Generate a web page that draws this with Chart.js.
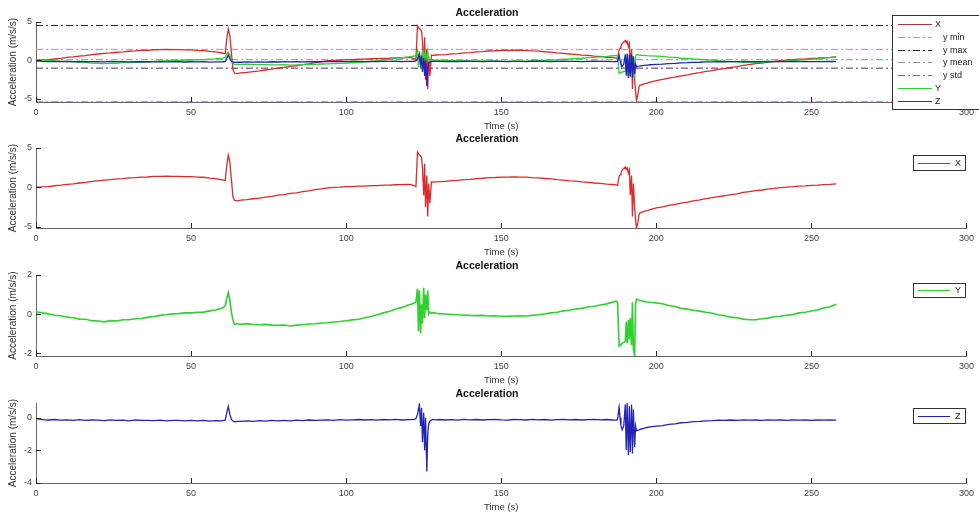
<!DOCTYPE html>
<html>
<head>
<meta charset="utf-8">
<script src="https://cdn.jsdelivr.net/npm/chart.js@4/dist/chart.umd.min.js"></script>
<style>
  html, body { margin: 0; padding: 0; background: #fff; width: 979px; height: 516px; overflow: hidden; }
  canvas { position: absolute; left: 0; }
</style>
</head>
<body>
<canvas id="pAll" width="979" height="124" style="top:8px"></canvas>
<canvas id="pX" width="979" height="124" style="top:134px"></canvas>
<canvas id="pY" width="979" height="125" style="top:261px"></canvas>
<canvas id="pZ" width="979" height="124" style="top:389px"></canvas>
<script>
// Sample times (s): coarse on the smooth stretches, finer around the three shocks
const time = [
  0, 2, 4, 6, 8, 10, 12, 14, 16, 18, 20, 22, 24, 26, 28, 30, 32, 34, 36, 38, 40, 42, 44, 46, 48, 50, 52, 54, 56, 58, 60,
  60.5, 61, 61.5, 62, 62.5, 63, 63.5, 64, 65,
  66, 68, 70, 72, 74, 76, 78, 80, 82, 84, 86, 88, 90, 92, 94, 96, 98, 100, 102, 104, 106, 108, 110, 112, 114, 116, 118, 120,
  121, 122, 122.5, 123, 123.3, 123.6, 124, 124.3, 124.6, 125, 125.3, 125.6, 126, 126.3, 126.6, 127, 127.5, 128, 129,
  130, 132, 134, 136, 138, 140, 142, 144, 146, 148, 150, 152, 154, 156, 158, 160, 162, 164, 166, 168, 170, 172, 174, 176, 178, 180, 182, 184, 186,
  187, 187.5, 188, 188.3, 188.6, 189, 189.5, 190, 190.3, 190.6, 191, 191.3, 191.6, 192, 192.3, 192.6, 193, 193.3, 193.6, 194, 194.5, 195, 196, 197,
  198, 200, 202, 204, 206, 208, 210, 212, 214, 216, 218, 220, 222, 224, 226, 228, 230, 232, 234, 236, 238, 240, 242, 244, 246, 248, 250, 252, 254, 256, 258
];

// Acceleration along X (m/s/s)
const accX = [
  0.00, 0.06, 0.11, 0.21, 0.28, 0.39, 0.46, 0.56, 0.64, 0.76, 0.84, 0.93, 0.99, 1.07, 1.11, 1.20, 1.24, 1.31, 1.32, 1.39, 1.40, 1.44, 1.41, 1.41, 1.37, 1.38, 1.31, 1.29, 1.19, 1.11, 0.97,
  0.92, 0.88, 2.80, 4.10, 3.20, 1.00, -1.20, -1.65, -1.70,
  -1.62, -1.56, -1.44, -1.36, -1.24, -1.13, -0.99, -0.91, -0.77, -0.69, -0.54, -0.43, -0.29, -0.19, -0.07, 0.01, 0.04, 0.11, 0.11, 0.16, 0.17, 0.22, 0.23, 0.28, 0.29, 0.34, 0.35, 0.39,
  0.36, 0.20, 0.12, 4.50, 4.30, 4.15, 4.00, 3.80, 2.50, -1.00, 3.00, -2.50, 1.50, -3.70, 0.50, -2.00, 0.70, 0.66, 0.71,
  0.73, 0.77, 0.85, 0.89, 0.98, 1.03, 1.11, 1.16, 1.23, 1.26, 1.31, 1.30, 1.33, 1.30, 1.30, 1.24, 1.21, 1.13, 1.08, 0.98, 0.93, 0.84, 0.79, 0.70, 0.65, 0.56, 0.51, 0.42, 0.37,
  0.33, 0.28, 1.40, 1.60, 1.85, 2.20, 2.40, 2.60, 2.30, 2.50, 1.80, 2.20, -1.00, 1.50, -3.70, 0.50, -2.50, -4.00, -5.20, -4.50, -3.30, -3.20, -3.05, -2.95,
  -2.82, -2.61, -2.46, -2.29, -2.16, -1.99, -1.87, -1.71, -1.59, -1.43, -1.31, -1.16, -1.06, -0.91, -0.81, -0.64, -0.53, -0.41, -0.33, -0.21, -0.13, -0.03, 0.04, 0.09, 0.16, 0.19, 0.26, 0.29, 0.36, 0.39, 0.45
];

// Acceleration along Y (m/s/s)
const accY = [
  0.12, 0.06, 0.01, -0.06, -0.09, -0.16, -0.19, -0.26, -0.27, -0.34, -0.36, -0.40, -0.34, -0.36, -0.29, -0.29, -0.24, -0.23, -0.17, -0.13, -0.07, -0.04, 0.01, 0.02, 0.06, 0.06, 0.09, 0.10, 0.16, 0.21, 0.31,
  0.35, 0.42, 0.80, 1.10, 0.70, 0.10, -0.30, -0.53, -0.50,
  -0.52, -0.49, -0.54, -0.55, -0.53, -0.57, -0.58, -0.56, -0.61, -0.57, -0.55, -0.51, -0.50, -0.46, -0.45, -0.41, -0.38, -0.34, -0.30, -0.27, -0.19, -0.13, -0.04, 0.06, 0.14, 0.26, 0.34, 0.46,
  0.50, 0.58, 0.62, 1.30, -0.90, 1.20, -1.00, 0.50, -0.50, 1.35, -0.20, 1.00, 0.20, 1.20, 0.00, 0.10, 0.05, 0.07, 0.04,
  0.02, 0.00, -0.02, -0.04, -0.05, -0.07, -0.08, -0.07, -0.10, -0.09, -0.11, -0.12, -0.10, -0.09, -0.10, -0.07, -0.04, 0.00, 0.06, 0.09, 0.16, 0.19, 0.26, 0.29, 0.36, 0.40, 0.46, 0.52, 0.61,
  0.67, 0.60, -1.64, -1.60, -1.55, -1.50, -1.45, -1.40, -0.40, -1.50, -0.30, -1.30, -0.20, -1.60, 0.60, -1.80, -2.15, 0.50, 0.75, 0.75, 0.70, 0.68, 0.65, 0.62,
  0.60, 0.57, 0.53, 0.44, 0.39, 0.29, 0.25, 0.19, 0.15, 0.09, 0.04, -0.04, -0.09, -0.16, -0.19, -0.26, -0.29, -0.29, -0.24, -0.21, -0.14, -0.11, -0.06, -0.03, 0.06, 0.09, 0.16, 0.21, 0.31, 0.37, 0.50
];

// Acceleration along Z (m/s/s)
const accZ = [
  -0.05, -0.12, -0.14, -0.11, -0.15, -0.13, -0.16, -0.12, -0.17, -0.14, -0.15, -0.18, -0.13, -0.16, -0.15, -0.19, -0.14, -0.17, -0.16, -0.18, -0.15, -0.19, -0.17, -0.16, -0.20, -0.17, -0.19, -0.16, -0.21, -0.18, -0.19,
  -0.17, -0.15, 0.30, 0.70, 0.20, -0.10, -0.20, -0.25, -0.22,
  -0.23, -0.19, -0.22, -0.18, -0.21, -0.17, -0.20, -0.16, -0.19, -0.15, -0.18, -0.14, -0.17, -0.15, -0.13, -0.16, -0.12, -0.15, -0.13, -0.11, -0.14, -0.12, -0.15, -0.11, -0.13, -0.10, -0.14, -0.12,
  -0.12, -0.10, -0.05, 0.20, 0.50, 0.80, -0.50, 0.60, -1.50, 0.30, -2.00, 0.00, -3.30, -1.00, -0.40, -0.20, -0.15, -0.10, -0.13,
  -0.11, -0.14, -0.12, -0.15, -0.10, -0.13, -0.11, -0.14, -0.12, -0.10, -0.13, -0.15, -0.11, -0.12, -0.14, -0.10, -0.13, -0.11, -0.15, -0.12, -0.10, -0.13, -0.11, -0.14, -0.12, -0.10, -0.13, -0.11, -0.14,
  -0.15, -0.12, 0.65, 0.00, -0.50, -0.74, -0.50, 0.80, -2.00, 0.90, -2.28, 0.70, -2.10, 0.80, -2.20, 0.50, -1.80, -0.50, -0.80, -0.76, -0.74, -0.70, -0.65, -0.60,
  -0.56, -0.52, -0.48, -0.41, -0.38, -0.31, -0.29, -0.24, -0.23, -0.19, -0.18, -0.15, -0.17, -0.14, -0.16, -0.13, -0.15, -0.14, -0.16, -0.13, -0.15, -0.14, -0.16, -0.13, -0.15, -0.14, -0.16, -0.14, -0.15, -0.13, -0.15
];

// Reference levels of the combined plot
const refMin = -5.35;
const refMax = 4.55;
const refMean = 0.1;
const refStdHigh = 1.44;
const refStdLow = -1.0;

// Axis ticks
const xTicks = [0, 50, 100, 150, 200, 250, 300];
const yTicksAll = [-5, 0, 5];
const yTicksX = [-5, 0, 5];
const yTicksY = [-2, 0, 2];
const yTicksZ = [-4, -2, 0];

const FONT = '"Liberation Sans", Arial, Helvetica, sans-serif';
const DASH_DOT = [7, 3, 2, 3];
const COL = { X: '#d92b2b', Y: '#2fd02f', Z: '#2323b8' };

const toPoints = (vals) => time.map((t, i) => ({ x: t, y: vals[i] }));
const flatLine = (v) => [{ x: 0, y: v }, { x: 300, y: v }];

// Short tick marks pointing into the plot area
const inwardTicks = {
  id: 'inwardTicks',
  afterDatasetsDraw(chart) {
    const { ctx, chartArea: a, scales: { x, y } } = chart;
    ctx.save();
    ctx.strokeStyle = '#222';
    ctx.lineWidth = 1;
    ctx.beginPath();
    x.ticks.forEach(t => {
      const p = Math.round(x.getPixelForValue(t.value)) + 0.5;
      ctx.moveTo(p, a.bottom); ctx.lineTo(p, a.bottom - 5);
    });
    y.ticks.forEach(t => {
      const p = Math.round(y.getPixelForValue(t.value)) + 0.5;
      ctx.moveTo(a.left, p); ctx.lineTo(a.left + 5, p);
    });
    ctx.stroke();
    ctx.restore();
  }
};

// Boxed legend placed over the plot area
const boxLegend = {
  id: 'boxLegend',
  afterDraw(chart, args, o) {
    const ctx = chart.ctx;
    const items = chart.data.datasets.filter(d => !d.noLegend);
    const top = Math.round(chart.chartArea.top + o.dy);
    ctx.save();
    ctx.fillStyle = '#fff';
    ctx.fillRect(o.x, top, o.w, o.h);
    ctx.strokeStyle = '#333';
    ctx.lineWidth = 1;
    ctx.strokeRect(o.x + 0.5, top + 0.5, o.w, o.h);
    ctx.font = '9px ' + FONT;
    ctx.textBaseline = 'middle';
    ctx.textAlign = 'left';
    items.forEach((d, i) => {
      const y = Math.round(top + o.first + i * o.row) + 0.5;
      ctx.strokeStyle = d.legendColor || d.borderColor;
      ctx.lineWidth = 1;
      ctx.setLineDash(d.borderDash || []);
      ctx.beginPath();
      ctx.moveTo(o.x + o.s0, y);
      ctx.lineTo(o.x + o.s1, y);
      ctx.stroke();
      ctx.setLineDash([]);
      ctx.fillStyle = '#222';
      ctx.fillText(d.label, o.x + o.tx + (d.labelShift || 0), y);
    });
    ctx.restore();
  }
};

function makePanel(id, datasets, yMin, yMax, yTicks, legend) {
  return new Chart(document.getElementById(id), {
    type: 'line',
    data: { datasets },
    options: {
      responsive: false,
      animation: false,
      devicePixelRatio: 1,
      parsing: false,
      layout: { padding: { left: 0, right: 5, top: 0, bottom: 0 }, autoPadding: false },
      elements: { point: { radius: 0 }, line: { borderWidth: 1.3, tension: 0 } },
      plugins: {
        legend: { display: false },
        tooltip: { enabled: false },
        title: {
          display: true, text: 'Acceleration', color: '#111',
          font: { family: FONT, size: 10.5, weight: 'bold', lineHeight: 1 },
          padding: { top: 0, bottom: 3.5 }
        },
        boxLegend: legend
      },
      scales: {
        x: {
          type: 'linear', min: 0, max: 300,
          afterBuildTicks: s => { s.ticks = xTicks.map(v => ({ value: v })); },
          afterFit: s => { s.height = 30; },
          grid: { display: false, drawTicks: false },
          border: { display: true, color: '#666', width: 1 },
          ticks: { padding: 5, color: '#444', autoSkip: false, maxRotation: 0, font: { family: FONT, size: 9 } },
          title: {
            display: true, text: 'Time (s)', color: '#333',
            font: { family: FONT, size: 9.5, lineHeight: 1 }, padding: { top: 0, bottom: 1 }
          }
        },
        y: {
          type: 'linear', min: yMin, max: yMax,
          afterBuildTicks: s => { s.ticks = yTicks.map(v => ({ value: v })); },
          afterFit: s => { s.width = 36; },
          grid: { display: false, drawTicks: false },
          border: { display: true, color: '#666', width: 1 },
          ticks: { padding: 4, color: '#444', font: { family: FONT, size: 9 } },
          title: {
            display: true, text: 'Acceleration (m/s/s)', color: '#333',
            font: { family: FONT, size: 10, lineHeight: 1 }, padding: { top: 8.5, bottom: 0 }
          }
        }
      }
    },
    plugins: [inwardTicks, boxLegend]
  });
}

// Combined view with reference levels
makePanel('pAll', [
  { label: 'X', data: toPoints(accX), borderColor: COL.X, legendColor: '#a33a3a', order: 2 },
  { label: 'y min', data: flatLine(refMin), borderColor: '#44c4d4', borderDash: DASH_DOT, borderWidth: 1, labelShift: 8, order: 3 },
  { label: 'y max', data: flatLine(refMax), borderColor: '#1c1c4a', borderDash: DASH_DOT, borderWidth: 1, labelShift: 8, order: 3 },
  { label: 'y mean', data: flatLine(refMean), borderColor: '#6fa58a', borderDash: DASH_DOT, borderWidth: 1, labelShift: 8, order: 3 },
  { label: 'y std', data: flatLine(refStdHigh), borderColor: '#d477c4', legendColor: '#8a5a9a', borderDash: DASH_DOT, borderWidth: 1, labelShift: 8, order: 3 },
  { label: 'y std', data: flatLine(refStdLow), borderColor: '#4a2a6a', borderDash: DASH_DOT, borderWidth: 1, noLegend: true, order: 3 },
  { label: 'Y', data: toPoints(accY), borderColor: COL.Y, order: 1 },
  { label: 'Z', data: toPoints(accZ), borderColor: COL.Z, legendColor: '#3a3a5a', order: 0 }
], -5.4, 5.0, yTicksAll, { x: 892, dy: -7, w: 95, h: 94, first: 9, row: 12.8, s0: 6, s1: 40, tx: 43 });

makePanel('pX', [
  { label: 'X', data: toPoints(accX), borderColor: COL.X }
], -5.15, 5.0, yTicksX, { x: 913, dy: 7, w: 52, h: 15, first: 7.5, row: 0, s0: 5, s1: 37, tx: 42 });

makePanel('pY', [
  { label: 'Y', data: toPoints(accY), borderColor: COL.Y, borderWidth: 1.6 }
], -2.15, 2.0, yTicksY, { x: 913, dy: 8, w: 52, h: 14, first: 7, row: 0, s0: 5, s1: 37, tx: 42 });

makePanel('pZ', [
  { label: 'Z', data: toPoints(accZ), borderColor: COL.Z }
], -4.0, 0.9, yTicksZ, { x: 913, dy: 5, w: 52, h: 15, first: 7.5, row: 0, s0: 5, s1: 37, tx: 42 });
</script>
</body>
</html>
